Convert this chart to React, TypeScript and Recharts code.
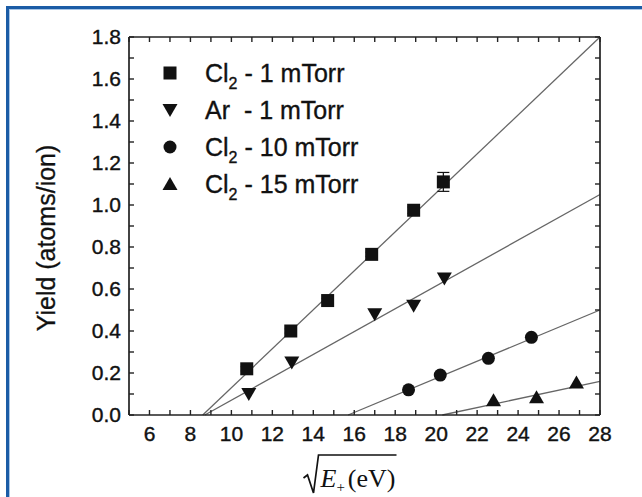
import { ScatterChart, Scatter, XAxis, YAxis, ReferenceLine, ErrorBar, Legend } from 'recharts'

// axis ticks (every unit / every 0.1, labels only on the majors)
const X_TICKS = [5, 6, 7, 8, 9, 10, 11, 12, 13, 14, 15, 16, 17, 18, 19, 20, 21, 22, 23, 24, 25, 26, 27, 28]
const X_TICK_LABELS = ['6', '8', '10', '12', '14', '16', '18', '20', '22', '24', '26', '28']
const Y_TICKS = [0, 0.1, 0.2, 0.3, 0.4, 0.5, 0.6, 0.7, 0.8, 0.9, 1.0, 1.1, 1.2, 1.3, 1.4, 1.5, 1.6, 1.7, 1.8]
const Y_TICK_LABELS = ['0.0', '0.2', '0.4', '0.6', '0.8', '1.0', '1.2', '1.4', '1.6', '1.8']

// measured points
const CL2_1_X = [10.75, 12.9, 14.7, 16.85, 18.9, 20.35]
const CL2_1_Y = [0.22, 0.4, 0.545, 0.765, 0.975, 1.11]
const CL2_1_ERR = [0.01, 0.01, 0.01, 0.01, 0.015, 0.045]
const AR_1_X = [10.85, 12.95, 17.0, 18.9, 20.4]
const AR_1_Y = [0.1, 0.25, 0.48, 0.52, 0.65]
const CL2_10_X = [18.65, 20.2, 22.55, 24.65]
const CL2_10_Y = [0.12, 0.19, 0.27, 0.37]
const CL2_15_X = [22.8, 24.9, 26.85]
const CL2_15_Y = [0.07, 0.085, 0.155]

// linear fits: x where each line leaves y = 0, and its value at the right edge (x = 28)
const FIT_X0 = [8.6, 8.7, 15.7, 20.3]
const FIT_Y_END = [1.8, 1.05, 0.5, 0.16]
const FIT_X_END = 28

const LEGEND_GAS = ['Cl', 'Ar', 'Cl', 'Cl']
const LEGEND_SUB = ['2', '', '2', '2']
const LEGEND_REST = [' - 1 mTorr', '  - 1 mTorr', ' - 10 mTorr', ' - 15 mTorr']

const SANS = '"Liberation Sans", Arial, sans-serif'
const INK = '#111'

const toPoints = (xs: number[], ys: number[], err?: number[]) =>
  xs.map((x, i) => ({ x, y: ys[i], err: err ? err[i] : 0 }))

const Square = ({ cx, cy }: any) => <rect x={cx - 6.5} y={cy - 6.5} width={13} height={13} fill={INK} />
const DownTri = ({ cx, cy }: any) => <path d={`M${cx - 7.5},${cy - 6}L${cx + 7.5},${cy - 6}L${cx},${cy + 7}Z`} fill={INK} />
const Dot = ({ cx, cy }: any) => <circle cx={cx} cy={cy} r={6.5} fill={INK} />
const UpTri = ({ cx, cy }: any) => <path d={`M${cx - 7.5},${cy + 6}L${cx + 7.5},${cy + 6}L${cx},${cy - 7}Z`} fill={INK} />

const SHAPES = [Square, DownTri, Dot, UpTri]

function LegendBox() {
  const rows = [73, 110, 147, 184]
  return (
    <svg width={400} height={210} style={{ overflow: 'visible' }}>
      {rows.map((ry, i) => {
        const Shape = SHAPES[i]
        return (
          <g key={i}>
            <Shape cx={170} cy={ry} />
            <text
              x={205}
              y={ry + 9}
              fontSize={25}
              fontFamily={SANS}
              fill={INK}
              stroke={INK}
              strokeWidth={0.35}
              style={{ whiteSpace: 'pre' }}
            >
              <tspan>{LEGEND_GAS[i]}</tspan>
              {LEGEND_SUB[i] ? (
                <>
                  <tspan fontSize={16} dy={7}>{LEGEND_SUB[i]}</tspan>
                  <tspan dy={-7}>{LEGEND_REST[i]}</tspan>
                </>
              ) : (
                <tspan>{LEGEND_REST[i]}</tspan>
              )}
            </text>
          </g>
        )
      })}
    </svg>
  )
}

function XTitle({ viewBox }: any) {
  const cx = viewBox.x + viewBox.width / 2 - 15
  const top = viewBox.y + 40
  return (
    <g>
      <path
        d={`M${cx - 46},${top + 23}L${cx - 42},${top + 20}L${cx - 36},${top + 38}L${cx - 31},${top}L${cx + 47},${top}`}
        stroke={INK}
        strokeWidth={1.7}
        fill="none"
      />
      <text x={cx - 29} y={top + 32} fontSize={26} fontFamily='"Liberation Serif", "DejaVu Serif", serif' fill={INK}>
        <tspan fontStyle="italic">E</tspan>
        <tspan fontSize={15} dy={5}>+</tspan>
        <tspan dy={-5} dx={3}>(eV)</tspan>
      </text>
    </g>
  )
}

function YTitle({ viewBox }: any) {
  const x = viewBox.x + 46
  const y = viewBox.y + viewBox.height / 2 + 12
  return (
    <text
      x={x}
      y={y}
      transform={`rotate(-90 ${x} ${y})`}
      textAnchor="middle"
      dominantBaseline="central"
      fontSize={25}
      fontFamily={SANS}
      fill={INK}
      stroke={INK}
      strokeWidth={0.3}
    >
      Yield (atoms/ion)
    </text>
  )
}

const xFmt = (v: number) => (X_TICK_LABELS.includes(String(v)) ? String(v) : '')
const yFmt = (v: number) => (Y_TICK_LABELS.includes(v.toFixed(1)) ? v.toFixed(1) : '')
const blank = () => ''

const tickStyle = { fontSize: 21, fontFamily: SANS, fill: INK, stroke: INK, strokeWidth: 0.4 }
const axisLine = { stroke: '#222', strokeWidth: 1.7 }
const tickLine = { stroke: '#222', strokeWidth: 1.4 }

export default function App() {
  const series = [
    toPoints(CL2_1_X, CL2_1_Y, CL2_1_ERR),
    toPoints(AR_1_X, AR_1_Y),
    toPoints(CL2_10_X, CL2_10_Y),
    toPoints(CL2_15_X, CL2_15_Y),
  ]

  return (
    <div style={{ position: 'absolute', left: 0, top: 0, width: 642, height: 497, background: '#fff', overflow: 'hidden' }}>
      <div
        style={{
          position: 'absolute',
          left: 6,
          top: 6,
          width: 700,
          height: 600,
          borderLeft: '3px solid #1b5ca6',
          borderTop: '3px solid #1b5ca6',
          boxShadow: 'inset 1px 1px 0 #a9c6e6',
        }}
      />
      <div style={{ position: 'absolute', left: 0, top: 0 }}>
        <ScatterChart width={642} height={497} margin={{ top: 27, right: 32, bottom: 42, left: 0 }}>
          <XAxis
            type="number"
            dataKey="x"
            domain={[5, 28]}
            ticks={X_TICKS}
            interval={0}
            tickFormatter={xFmt}
            tickSize={-5}
            tickMargin={16}
            height={40}
            tick={tickStyle}
            axisLine={axisLine}
            tickLine={tickLine}
            allowDataOverflow
            label={{ content: XTitle }}
          />
          <XAxis
            xAxisId="top"
            orientation="top"
            type="number"
            dataKey="x"
            domain={[5, 28]}
            ticks={X_TICKS}
            interval={0}
            tickFormatter={blank}
            tickSize={-5}
            height={10}
            axisLine={axisLine}
            tickLine={tickLine}
            allowDataOverflow
          />
          <YAxis
            type="number"
            dataKey="y"
            domain={[0, 1.8]}
            ticks={Y_TICKS}
            interval={0}
            tickFormatter={yFmt}
            tickSize={-5}
            tickMargin={13}
            width={129}
            tick={tickStyle}
            axisLine={axisLine}
            tickLine={tickLine}
            allowDataOverflow
            label={{ content: YTitle }}
          />
          <YAxis
            yAxisId="right"
            orientation="right"
            type="number"
            dataKey="y"
            domain={[0, 1.8]}
            ticks={Y_TICKS}
            interval={0}
            tickFormatter={blank}
            tickSize={-5}
            width={10}
            axisLine={axisLine}
            tickLine={tickLine}
            allowDataOverflow
          />
          {FIT_X0.map((x0, i) => (
            <ReferenceLine
              key={i}
              segment={[
                { x: x0, y: 0 },
                { x: FIT_X_END, y: FIT_Y_END[i] },
              ]}
              stroke="#666"
              strokeWidth={1.3}
            />
          ))}
          {series.map((data, i) => (
            <Scatter key={i} data={data} shape={SHAPES[i]} isAnimationActive={false}>
              {i === 0 && <ErrorBar dataKey="err" direction="y" width={6} stroke={INK} strokeWidth={1.2} />}
            </Scatter>
          ))}
          <Legend
            layout="vertical"
            align="center"
            verticalAlign="middle"
            wrapperStyle={{ left: 0, top: 0, width: 400, height: 210 }}
            content={() => <LegendBox />}
          />
        </ScatterChart>
      </div>
    </div>
  )
}
